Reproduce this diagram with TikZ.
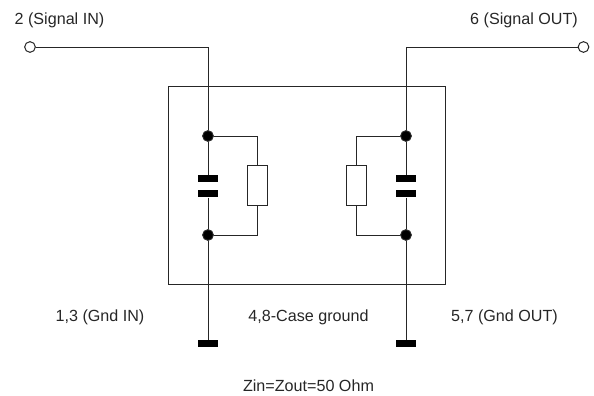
\documentclass[tikz,border=0pt]{standalone}
\usepackage{fontspec}
\setmainfont{Liberation Sans}
\usetikzlibrary{positioning}
\tikzstyle{case} = [rectangle, draw, minimum width=207.75pt, minimum height=148.5pt]
\tikzstyle{port} = [circle, draw, fill=white, inner sep=0pt, minimum size=8pt]
\tikzstyle{junction} = [circle, draw, fill=black, inner sep=0pt, minimum size=8pt]
\tikzstyle{plate} = [rectangle, fill=black, inner sep=0pt, minimum width=15pt, minimum height=5.25pt]
\tikzstyle{resistor} = [rectangle, draw, fill=white, inner sep=0pt, minimum width=15pt, minimum height=30pt]
\tikzstyle{line} = [draw]
\tikzstyle{caption} = [anchor=base, font=\fontsize{12.1pt}{14pt}\selectfont, inner sep=0pt]

\begin{document}
\begin{tikzpicture}[x=0.75pt, y=-0.75pt, line width=0.75pt, color=black!85]
   \useasboundingbox (0,0) rectangle (594,396);
   % Place nodes
    \node [case] (box) at (307,185.5) {};
    \node [port] (in) at (30,47) {};
    \node [port] (out) at (583.5,47) {};
    \node [junction] (topl) at (208,136) {};
    \node [junction, below of=topl, node distance=74.25pt] (botl) {};
    \node [plate, below of=topl, node distance=31.9pt] (capla) {};
    \node [plate, below of=capla, node distance=11.25pt] (caplb) {};
    \node [plate, below of=botl, node distance=81.4pt] (gndl) {};
    \node [resistor] (resl) at (257.5,185) {};
    \node [junction] (topr) at (406,136) {};
    \node [junction, below of=topr, node distance=74.25pt] (botr) {};
    \node [plate, below of=topr, node distance=31.9pt] (capra) {};
    \node [plate, below of=capra, node distance=11.25pt] (caprb) {};
    \node [plate, below of=botr, node distance=81.4pt] (gndr) {};
    \node [resistor] (resr) at (356.5,185) {};
   % Draw edges
    \path [line] (in) -| (topl);
    \path [line] (topl) -- (capla);
    \path [line] (caplb) -- (botl);
    \path [line] (botl) -- (gndl);
    \path [line] (topl) -| (resl);
    \path [line] (botl) -| (resl);
    \path [line] (out) -| (topr);
    \path [line] (topr) -- (capra);
    \path [line] (caprb) -- (botr);
    \path [line] (botr) -- (gndr);
    \path [line] (topr) -| (resr);
    \path [line] (botr) -| (resr);
   % Labels
    \node [caption] (sigin) at (59.5,25) {2 (Signal IN)};
    \node [caption] (sigout) at (524,25) {6 (Signal OUT)};
    \node [caption] (gndin) at (100,321) {1,3 (Gnd IN)};
    \node [caption] (casegnd) at (308.5,321) {4,8-Case ground};
    \node [caption] (gndout) at (504.5,321) {5,7 (Gnd OUT)};
    \node [caption] (zval) at (308.5,391) {Zin=Zout=50 Ohm};
  \end{tikzpicture}
\end{document}
